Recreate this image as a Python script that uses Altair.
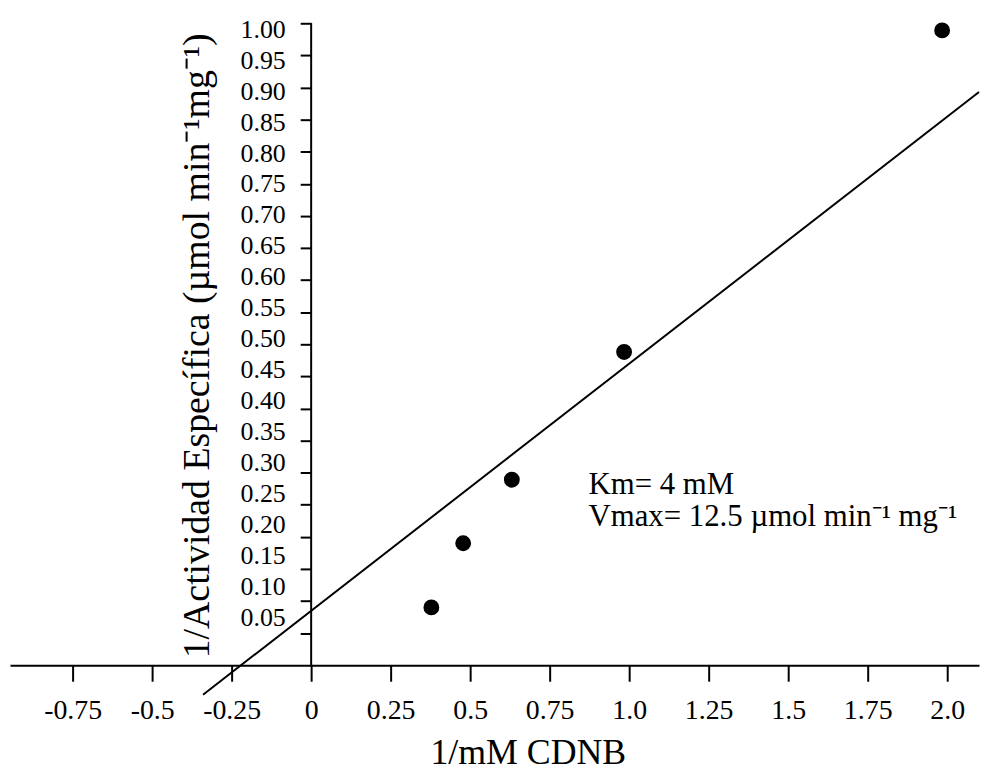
import json
import altair as alt
import pandas as pd

# ---- data ----
x_vals = [0.378, 0.478, 0.631, 0.984, 1.984]
y_vals = [0.090, 0.190, 0.289, 0.488, 0.989]

fit_x = [-0.34, 2.10]
fit_y = [-0.046, 0.893]

x_ticks = [-0.75, -0.5, -0.25, 0, 0.25, 0.5, 0.75, 1.0, 1.25, 1.5, 1.75, 2.0]
x_tick_labels = ["-0.75", "-0.5", "-0.25", "0", "0.25", "0.5", "0.75",
                 "1.0", "1.25", "1.5", "1.75", "2.0"]
y_ticks = [0.05, 0.10, 0.15, 0.20, 0.25, 0.30, 0.35, 0.40, 0.45, 0.50,
           0.55, 0.60, 0.65, 0.70, 0.75, 0.80, 0.85, 0.90, 0.95, 1.00]

y_axis_span = [0.0, 1.0]

ann_text = ["Km= 4 mM", "Vmax= 12.5 \u00b5mol min\u207b\u00b9 mg\u207b\u00b9"]
ann_x = [0.872, 0.872]
ann_y = [0.266, 0.217]

x_title = "1/mM CDNB"
y_title = "1/Actividad Espec\u00edfica (\u00b5mol min\u207b\u00b9mg\u207b\u00b9)"

# ---- layout ----
X_DOMAIN = [-0.947, 2.10]
Y_DOMAIN = [-0.059, 1.014]
W, H = 975, 693
FONT = "Liberation Serif"

pts = pd.DataFrame({"x": x_vals, "y": y_vals})
fit = pd.DataFrame({"x": fit_x, "y": fit_y})
yax = pd.DataFrame({"x": [0.0], "y": [y_axis_span[0]], "y2": [y_axis_span[1]]})
ann = pd.DataFrame({"x": ann_x, "y": ann_y, "t": ann_text})

label_expr = "{}[indexof({}, datum.value)]".format(
    json.dumps(x_tick_labels), json.dumps(x_ticks))

x_axis = alt.Axis(
    values=x_ticks, labelExpr=label_expr, offset=-38, grid=False,
    domain=True, domainColor="black", domainWidth=2,
    ticks=True, tickColor="black", tickWidth=2, tickSize=16,
    labelFont=FONT, labelFontSize=28, labelColor="black", labelPadding=16,
    labelFlush=False, labelOverlap=False,
    title=x_title, titleFont=FONT, titleFontSize=36, titleFontWeight="normal",
    titleColor="black", titleX=521, titleY=99, titleAlign="center",
    titleBaseline="alphabetic", titleAngle=0,
)

y_axis = alt.Axis(
    values=y_ticks, format=".2f", offset=-303, grid=False, domain=False,
    ticks=True, tickColor="black", tickWidth=2, tickSize=11,
    labelFont=FONT, labelFontSize=26, labelColor="black", labelPadding=15,
    labelFlush=False, labelOverlap=False,
    labelOffset={"expr": "-16 + (datum.value - 0.05) * 23.16"},
    title=y_title, titleFont=FONT, titleFontSize=38, titleFontWeight="normal",
    titleColor="black", titleX=-103, titleY=333, titleAlign="center",
    titleBaseline="alphabetic", titleAngle=270,
)

xs = alt.Scale(domain=X_DOMAIN, nice=False, zero=False)
ys = alt.Scale(domain=Y_DOMAIN, nice=False, zero=False)


def X():
    return alt.X("x:Q", scale=xs, axis=x_axis)


def Y():
    return alt.Y("y:Q", scale=ys, axis=y_axis)


points = alt.Chart(pts).mark_circle(size=254, color="black", opacity=1).encode(x=X(), y=Y())
line = alt.Chart(fit).mark_line(color="black", strokeWidth=2).encode(x=X(), y=Y())
yline = alt.Chart(yax).mark_rule(color="black", strokeWidth=2).encode(x=X(), y=Y(), y2="y2:Q")
texts = alt.Chart(ann).mark_text(
    align="left", baseline="alphabetic", font=FONT, fontSize=31, color="black"
).encode(x=X(), y=Y(), text="t:N")

chart = alt.layer(yline, line, points, texts).properties(
    width=W, height=H,
    autosize=alt.AutoSizeParams(type="none"),
    padding={"left": 2, "top": 4, "right": 2, "bottom": 71},
    background="white",
).configure_view(stroke=None, strokeWidth=0)

chart.save("out.html", embed_options={"renderer": "svg", "actions": False})
